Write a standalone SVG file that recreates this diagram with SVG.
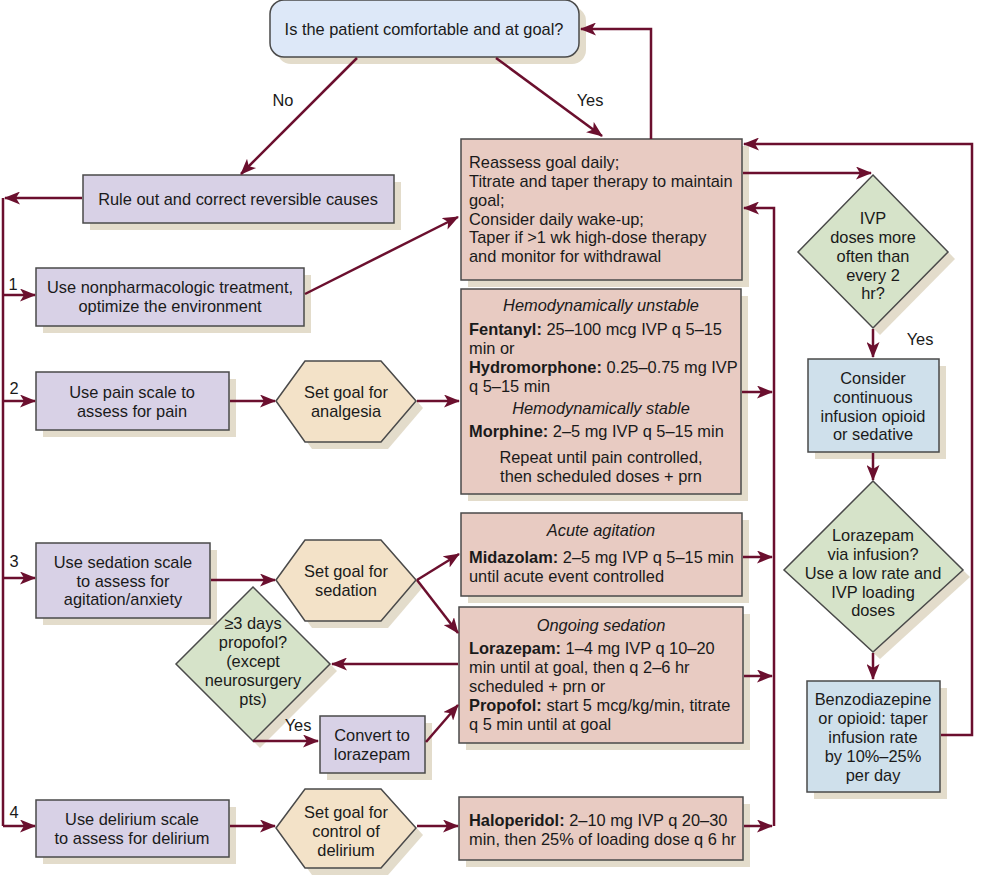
<svg xmlns="http://www.w3.org/2000/svg" width="988" height="876" viewBox="0 0 988 876">
<defs>
<marker id="ah" markerUnits="userSpaceOnUse" markerWidth="17" markerHeight="13" refX="15" refY="6.5" orient="auto">
<path d="M0,0 L16,6.5 L0,13 L4,6.5 Z" fill="#6b0f2e"/>
</marker>
</defs>
<style>
text{font-family:"Liberation Sans",Arial,sans-serif;font-size:16.4px;fill:#1a1a1a}
.c{text-anchor:middle}
.i{font-style:italic}
.b{font-weight:bold}
.sh{fill:#e3dccb}
.bx{stroke:#4a4a4a;stroke-width:1.5}
.pu{fill:#d8d1e6}
.pk{fill:#e8cbc2}
.hx{fill:#f3e2c8}
.gr{fill:#d6e3c9}
.bl{fill:#cfe0eb}
.tb{fill:#dde8f8}
.cn{fill:none;stroke:#6b0f2e;stroke-width:2.5}
.ar{marker-end:url(#ah)}
</style>
<rect width="988" height="876" fill="#fff"/>

<g id="top">
<rect x="277" y="7" width="309" height="57" rx="14" class="sh"/>
<rect x="270" y="0" width="309" height="57" rx="14" class="tb bx"/>
<text x="424" y="35" class="c">Is the patient comfortable and at goal?</text>
</g>

<g id="reassess">
<rect x="468" y="146" width="281" height="141" class="sh"/>
<rect x="461" y="139" width="281" height="141" class="pk bx"/>
<text x="469" y="168">Reassess goal daily;</text>
<text x="469" y="187">Titrate and taper therapy to maintain</text>
<text x="469" y="206">goal;</text>
<text x="469" y="225">Consider daily wake-up;</text>
<text x="469" y="243">Taper if &gt;1 wk high-dose therapy</text>
<text x="469" y="262">and monitor for withdrawal</text>
</g>

<g id="ruleout">
<rect x="90" y="182" width="311" height="48" class="sh"/>
<rect x="83" y="175" width="311" height="48" class="pu bx"/>
<text x="238" y="205" class="c">Rule out and correct reversible causes</text>
</g>

<g id="box1">
<rect x="43" y="275" width="268" height="58" class="sh"/>
<rect x="36" y="268" width="268" height="58" class="pu bx"/>
<text x="170" y="293" class="c">Use nonpharmacologic treatment,</text>
<text x="170" y="312" class="c">optimize the environment</text>
</g>

<g id="box2">
<rect x="43" y="379" width="193" height="58" class="sh"/>
<rect x="36" y="372" width="193" height="58" class="pu bx"/>
<text x="132" y="398" class="c">Use pain scale to</text>
<text x="132" y="417" class="c">assess for pain</text>
</g>

<g id="hex-analgesia">
<polygon points="283,408 312,368 388,368 423,408 388,449 312,449" class="sh"/>
<polygon points="276,401 305,361 381,361 416,401 381,442 305,442" class="hx bx"/>
<text x="346" y="398" class="c">Set goal for</text>
<text x="346" y="417" class="c">analgesia</text>
</g>

<g id="pain-drugs">
<rect x="468" y="296" width="280" height="205" class="sh"/>
<rect x="461" y="289" width="280" height="205" class="pk bx"/>
<text x="601" y="311" class="c i">Hemodynamically unstable</text>
<text x="469" y="335"><tspan class="b">Fentanyl:</tspan> 25–100 mcg IVP q 5–15</text>
<text x="469" y="354">min or</text>
<text x="469" y="373"><tspan class="b">Hydromorphone:</tspan> 0.25–0.75 mg IVP</text>
<text x="469" y="392">q 5–15 min</text>
<text x="601" y="414" class="c i">Hemodynamically stable</text>
<text x="469" y="437"><tspan class="b">Morphine:</tspan> 2–5 mg IVP q 5–15 min</text>
<text x="601" y="463" class="c">Repeat until pain controlled,</text>
<text x="601" y="482" class="c">then scheduled doses + prn</text>
</g>

<g id="box3">
<rect x="43" y="550" width="174" height="75" class="sh"/>
<rect x="36" y="543" width="174" height="75" class="pu bx"/>
<text x="123" y="568" class="c">Use sedation scale</text>
<text x="123" y="587" class="c">to assess for</text>
<text x="123" y="605" class="c">agitation/anxiety</text>
</g>

<g id="hex-sedation">
<polygon points="283,587 312,547 388,547 423,587 388,628 312,628" class="sh"/>
<polygon points="276,580 305,540 381,540 416,580 381,621 305,621" class="hx bx"/>
<text x="346" y="577" class="c">Set goal for</text>
<text x="346" y="596" class="c">sedation</text>
</g>

<g id="midazolam">
<rect x="468" y="520" width="281" height="83" class="sh"/>
<rect x="461" y="513" width="281" height="83" class="pk bx"/>
<text x="601" y="536" class="c i">Acute agitation</text>
<text x="469" y="563"><tspan class="b">Midazolam:</tspan> 2–5 mg IVP q 5–15 min</text>
<text x="469" y="582">until acute event controlled</text>
</g>

<g id="ongoing">
<rect x="466" y="614" width="284" height="136" class="sh"/>
<rect x="459" y="607" width="284" height="136" class="pk bx"/>
<text x="601" y="631" class="c i">Ongoing sedation</text>
<text x="469" y="654"><tspan class="b">Lorazepam:</tspan> 1–4 mg IVP q 10–20</text>
<text x="469" y="673">min until at goal, then q 2–6 hr</text>
<text x="469" y="692">scheduled + prn or</text>
<text x="469" y="711"><tspan class="b">Propofol:</tspan> start 5 mcg/kg/min, titrate</text>
<text x="469" y="730">q 5 min until at goal</text>
</g>

<g id="propofol-diamond">
<polygon points="260,594 337,671 260,748 183,671" class="sh"/>
<polygon points="253,587 330,664 253,741 176,664" class="gr bx"/>
<text x="253" y="629" class="c">≥3 days</text>
<text x="253" y="648" class="c">propofol?</text>
<text x="253" y="667" class="c">(except</text>
<text x="253" y="686" class="c">neurosurgery</text>
<text x="253" y="705" class="c">pts)</text>
</g>

<g id="convert">
<rect x="327" y="723" width="105" height="57" class="sh"/>
<rect x="320" y="716" width="105" height="57" class="pu bx"/>
<text x="372" y="741" class="c">Convert to</text>
<text x="372" y="760" class="c">lorazepam</text>
</g>

<g id="box4">
<rect x="43" y="807" width="193" height="57" class="sh"/>
<rect x="36" y="800" width="193" height="57" class="pu bx"/>
<text x="132" y="825" class="c">Use delirium scale</text>
<text x="132" y="844" class="c">to assess for delirium</text>
</g>

<g id="hex-delirium">
<polygon points="283,835 312,796 388,796 423,835 388,875 312,875" class="sh"/>
<polygon points="276,828 305,789 381,789 416,828 381,868 305,868" class="hx bx"/>
<text x="346" y="818" class="c">Set goal for</text>
<text x="346" y="837" class="c">control of</text>
<text x="346" y="856" class="c">delirium</text>
</g>

<g id="haloperidol">
<rect x="466" y="804" width="284" height="63" class="sh"/>
<rect x="459" y="797" width="284" height="63" class="pk bx"/>
<text x="469" y="826"><tspan class="b">Haloperidol:</tspan> 2–10 mg IVP q 20–30</text>
<text x="469" y="845">min, then 25% of loading dose q 6 hr</text>
</g>

<g id="ivp-diamond">
<polygon points="880,182 955,259 880,335 805,259" class="sh"/>
<polygon points="873,175 948,252 873,328 798,252" class="gr bx"/>
<text x="873" y="224" class="c">IVP</text>
<text x="873" y="243" class="c">doses more</text>
<text x="873" y="262" class="c">often than</text>
<text x="873" y="281" class="c">every 2</text>
<text x="873" y="299" class="c">hr?</text>
</g>

<g id="consider">
<rect x="815" y="366" width="131" height="93" class="sh"/>
<rect x="808" y="359" width="131" height="93" class="bl bx"/>
<text x="873" y="384" class="c">Consider</text>
<text x="873" y="403" class="c">continuous</text>
<text x="873" y="422" class="c">infusion opioid</text>
<text x="873" y="440" class="c">or sedative</text>
</g>

<g id="lorazepam-diamond">
<polygon points="880,488 970,577 880,659 791,577" class="sh"/>
<polygon points="873,481 963,570 873,652 784,570" class="gr bx"/>
<text x="873" y="541" class="c">Lorazepam</text>
<text x="873" y="560" class="c">via infusion?</text>
<text x="873" y="579" class="c">Use a low rate and</text>
<text x="873" y="598" class="c">IVP loading</text>
<text x="873" y="616" class="c">doses</text>
</g>

<g id="benzo">
<rect x="814" y="688" width="133" height="111" class="sh"/>
<rect x="807" y="681" width="133" height="111" class="bl bx"/>
<text x="873" y="705" class="c">Benzodiazepine</text>
<text x="873" y="724" class="c">or opioid: taper</text>
<text x="873" y="743" class="c">infusion rate</text>
<text x="873" y="762" class="c">by 10%–25%</text>
<text x="873" y="781" class="c">per day</text>
</g>

<g id="connectors">
<path class="cn ar" d="M357,58 L241,174"/>
<path class="cn ar" d="M496,58 L602,136"/>
<path class="cn ar" d="M651,139 L651,29 L581,29"/>
<path class="cn ar" d="M941,735 L972,735 L972,144 L744,144"/>
<path class="cn ar" d="M743,173 L871,173"/>
<path class="cn ar" d="M774,826 L774,208 L744,208"/>
<path class="cn ar" d="M742,392 L772,392"/>
<path class="cn ar" d="M743,557 L772,557"/>
<path class="cn ar" d="M744,676 L772,676"/>
<path class="cn ar" d="M744,826 L772,826"/>
<path class="cn ar" d="M873,329 L873,357"/>
<path class="cn ar" d="M873,453 L873,480"/>
<path class="cn ar" d="M873,653 L873,679"/>
<path class="cn ar" d="M82,198 L5,198"/>
<path class="cn" d="M3,198 L3,826"/>
<path class="cn ar" d="M3,295 L35,295"/>
<path class="cn ar" d="M3,401 L35,401"/>
<path class="cn ar" d="M3,578 L35,578"/>
<path class="cn ar" d="M3,826 L35,826"/>
<path class="cn ar" d="M305,294 L458,217"/>
<path class="cn ar" d="M230,401 L275,401"/>
<path class="cn ar" d="M417,401 L459,401"/>
<path class="cn ar" d="M211,580 L275,580"/>
<path class="cn ar" d="M417,580 L459,554"/>
<path class="cn ar" d="M417,580 L458,633"/>
<path class="cn ar" d="M458,664 L332,664"/>
<path class="cn ar" d="M253,741 L318,741"/>
<path class="cn ar" d="M426,742 L458,705"/>
<path class="cn ar" d="M230,826 L275,826"/>
<path class="cn ar" d="M417,826 L458,826"/>
<text x="283" y="106" class="c">No</text>
<text x="590" y="106" class="c">Yes</text>
<text x="920" y="345" class="c">Yes</text>
<text x="298" y="731" class="c">Yes</text>
<text x="13" y="290" class="c">1</text>
<text x="14" y="394" class="c">2</text>
<text x="14" y="567" class="c">3</text>
<text x="14" y="818" class="c">4</text>
</g>
</svg>
